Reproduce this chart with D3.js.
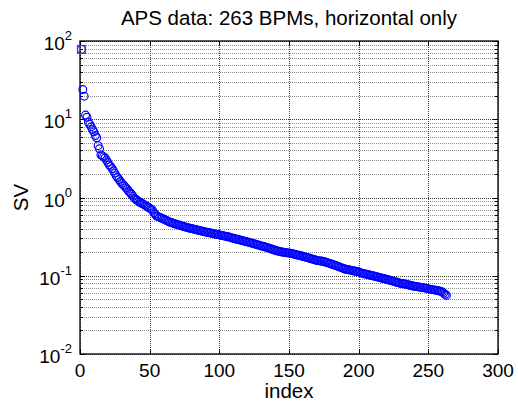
<!DOCTYPE html>
<html>
<head>
<meta charset="utf-8">
<script src="https://cdn.jsdelivr.net/npm/d3@7"></script>
<style>
    html, body { margin: 0; padding: 0; background: #fff; }
    svg { display: block; font-family: "Liberation Sans", Arial, sans-serif; }
    .grid-minor { stroke: #8c8c8c; stroke-width: 1; stroke-dasharray: 1,1; shape-rendering: crispEdges; }
    .grid-major { stroke: #3c3c3c; stroke-width: 1; stroke-dasharray: 1,1; shape-rendering: crispEdges; }
    .frame { fill: none; stroke: #000; stroke-width: 1.3; }
    .tick-line { stroke: #000; stroke-width: 1; shape-rendering: crispEdges; }
    .tick-label { font-size: 19px; fill: #000; }
    .axis-title { font-size: 20.5px; fill: #000; }
</style>
</head>
<body>
<svg id="chart" width="518" height="403"></svg>
<script>
// singular values, index 1..263
var svValues = [
    78, 24, 19.7, 11.3, 10.6, 9.2, 8.6, 8.0, 7.4, 6.9,
    6.2, 5.8, 4.6, 4.2, 3.5, 3.4, 3.3, 3.2, 3.0, 2.8,
    2.6, 2.5, 2.35, 2.2, 2.05, 1.9, 1.8, 1.7, 1.6, 1.52,
    1.45, 1.4, 1.33, 1.27, 1.2, 1.15, 1.1, 1.04, 0.98, 0.95,
    0.92, 0.89, 0.87, 0.85, 0.83, 0.81, 0.79, 0.77, 0.75, 0.73,
    0.71, 0.69, 0.64, 0.61, 0.58, 0.57, 0.56, 0.55, 0.54, 0.53,
    0.52, 0.51, 0.50, 0.49, 0.48, 0.475, 0.47, 0.462, 0.455, 0.45,
    0.445, 0.44, 0.434, 0.428, 0.423, 0.418, 0.413, 0.409, 0.405, 0.401,
    0.397, 0.393, 0.389, 0.385, 0.381, 0.378, 0.374, 0.370, 0.366, 0.363,
    0.360, 0.357, 0.354, 0.351, 0.348, 0.345, 0.342, 0.339, 0.336, 0.333,
    0.330, 0.327, 0.324, 0.321, 0.318, 0.315, 0.312, 0.309, 0.305, 0.301,
    0.298, 0.295, 0.292, 0.289, 0.286, 0.283, 0.280, 0.277, 0.274, 0.271,
    0.268, 0.265, 0.262, 0.259, 0.256, 0.253, 0.250, 0.247, 0.244, 0.241,
    0.238, 0.236, 0.233, 0.230, 0.227, 0.224, 0.221, 0.218, 0.215, 0.212,
    0.209, 0.207, 0.205, 0.203, 0.201, 0.200, 0.198, 0.197, 0.196, 0.195,
    0.194, 0.192, 0.190, 0.188, 0.186, 0.184, 0.183, 0.181, 0.179, 0.177,
    0.175, 0.173, 0.171, 0.169, 0.167, 0.165, 0.163, 0.161, 0.159, 0.157,
    0.156, 0.155, 0.154, 0.153, 0.152, 0.150, 0.148, 0.146, 0.144, 0.142,
    0.140, 0.138, 0.136, 0.134, 0.132, 0.130, 0.128, 0.126, 0.124, 0.122,
    0.121, 0.120, 0.119, 0.118, 0.117, 0.116, 0.115, 0.114, 0.113, 0.112,
    0.110, 0.108, 0.107, 0.106, 0.105, 0.104, 0.103, 0.102, 0.101, 0.100,
    0.099, 0.098, 0.097, 0.096, 0.095, 0.094, 0.093, 0.092, 0.091, 0.090,
    0.089, 0.088, 0.087, 0.086, 0.085, 0.084, 0.083, 0.082, 0.081, 0.080,
    0.0795, 0.079, 0.0785, 0.078, 0.077, 0.076, 0.0755, 0.075, 0.074, 0.0735,
    0.073, 0.0725, 0.072, 0.0715, 0.071, 0.0705, 0.070, 0.0695, 0.069, 0.068,
    0.0675, 0.067, 0.0665, 0.066, 0.0655, 0.065, 0.0645, 0.064, 0.063, 0.062,
    0.060, 0.058, 0.056
];

var xTicks = [0, 50, 100, 150, 200, 250, 300];
var yDecades = [-2, -1, 0, 1, 2];
var highlightIndex = 1;   // the point drawn with the red square

var titleText = 'APS data: 263 BPMs, horizontal only';
var xLabelText = 'index';
var yLabelText = 'SV';

(function () {
    'use strict';

    var margin = { left: 80, top: 41, right: 20, bottom: 49 };
    var width = 518, height = 403;
    var plotW = width - margin.left - margin.right;
    var plotH = height - margin.top - margin.bottom;

    var svg = d3.select('#chart');
    var g = svg.append('g').attr('transform', 'translate(' + margin.left + ',' + margin.top + ')');

    var x = d3.scaleLinear().domain([0, 300]).range([0, plotW]);
    var y = d3.scaleLog().domain([1e-2, 1e2]).range([plotH, 0]);

    // minor values 2..9 in every decade
    var minorVals = [];
    yDecades.slice(0, -1).forEach(function (e) {
        for (var k = 2; k <= 9; k++) minorVals.push(k * Math.pow(10, e));
    });
    var majorVals = yDecades.map(function (e) { return Math.pow(10, e); });

    // grid
    g.selectAll('.gy-minor').data(minorVals).enter().append('line')
        .attr('class', 'grid-minor')
        .attr('x1', 0).attr('x2', plotW)
        .attr('y1', function (d) { return Math.round(y(d)) + 0.5; })
        .attr('y2', function (d) { return Math.round(y(d)) + 0.5; });

    g.selectAll('.gy-major').data(majorVals).enter().append('line')
        .attr('class', 'grid-major')
        .attr('x1', 0).attr('x2', plotW)
        .attr('y1', function (d) { return Math.round(y(d)) + 0.5; })
        .attr('y2', function (d) { return Math.round(y(d)) + 0.5; });

    g.selectAll('.gx').data(xTicks).enter().append('line')
        .attr('class', 'grid-major')
        .attr('y1', 0).attr('y2', plotH)
        .attr('x1', function (d) { return Math.round(x(d)) + 0.5; })
        .attr('x2', function (d) { return Math.round(x(d)) + 0.5; });

    // ticks inside the box, on all four sides
    var tickLen = 5, minorLen = 3;
    xTicks.forEach(function (d) {
        var px = Math.round(x(d)) + 0.5;
        g.append('line').attr('class', 'tick-line').attr('x1', px).attr('x2', px).attr('y1', plotH).attr('y2', plotH - tickLen);
        g.append('line').attr('class', 'tick-line').attr('x1', px).attr('x2', px).attr('y1', 0).attr('y2', tickLen);
    });
    majorVals.forEach(function (d) {
        var py = Math.round(y(d)) + 0.5;
        g.append('line').attr('class', 'tick-line').attr('x1', 0).attr('x2', tickLen).attr('y1', py).attr('y2', py);
        g.append('line').attr('class', 'tick-line').attr('x1', plotW).attr('x2', plotW - tickLen).attr('y1', py).attr('y2', py);
    });
    minorVals.forEach(function (d) {
        var py = Math.round(y(d)) + 0.5;
        g.append('line').attr('class', 'tick-line').attr('x1', 0).attr('x2', minorLen).attr('y1', py).attr('y2', py);
        g.append('line').attr('class', 'tick-line').attr('x1', plotW).attr('x2', plotW - minorLen).attr('y1', py).attr('y2', py);
    });

    // x tick labels
    g.selectAll('.xl').data(xTicks).enter().append('text')
        .attr('class', 'tick-label')
        .attr('x', function (d) { return x(d); })
        .attr('y', plotH + 23)
        .attr('text-anchor', 'middle')
        .text(function (d) { return d; });

    // y tick labels: 10 with superscript exponent
    var yl = g.selectAll('.yl').data(yDecades).enter().append('text')
        .attr('class', 'tick-label')
        .attr('x', -8)
        .attr('y', function (d) { return y(Math.pow(10, d)) + 9; })
        .attr('text-anchor', 'end');
    yl.append('tspan').text('10');
    yl.append('tspan')
        .attr('dy', -10)
        .style('font-size', '13px')
        .text(function (d) { return d < 0 ? '-' + (-d) : d; });

    // box
    g.append('rect').attr('class', 'frame')
        .attr('x', 0).attr('y', 0).attr('width', plotW).attr('height', plotH);

    // points
    var pts = svValues.map(function (v, i) { return { idx: i + 1, v: v }; });
    g.selectAll('.pt').data(pts).enter().append('circle')
        .attr('cx', function (d) { return x(d.idx); })
        .attr('cy', function (d) { return y(d.v); })
        .attr('r', 3.9)
        .attr('fill', 'none')
        .attr('stroke', '#0000ff')
        .attr('stroke-width', 1.15);

    var hp = pts[highlightIndex - 1];
    g.append('rect')
        .attr('x', x(hp.idx) - 4).attr('y', y(hp.v) - 4)
        .attr('width', 8).attr('height', 8)
        .attr('fill', 'none')
        .attr('stroke', '#ff0000')
        .attr('stroke-width', 1);

    // titles
    svg.append('text').attr('class', 'axis-title')
        .attr('x', margin.left + plotW / 2).attr('y', 25)
        .attr('text-anchor', 'middle')
        .text(titleText);

    svg.append('text').attr('class', 'axis-title')
        .attr('x', margin.left + plotW / 2).attr('y', 398)
        .attr('text-anchor', 'middle')
        .text(xLabelText);

    svg.append('text').attr('class', 'axis-title')
        .attr('transform', 'translate(28,' + (margin.top + plotH / 2) + ') rotate(-90)')
        .attr('text-anchor', 'middle')
        .text(yLabelText);
})();
</script>
</body>
</html>
